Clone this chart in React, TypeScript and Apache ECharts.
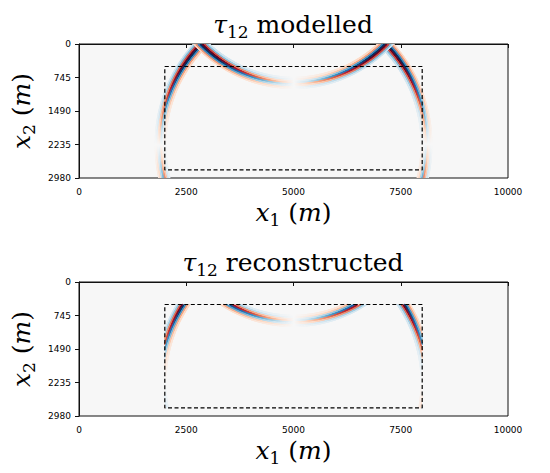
import React, { useEffect, useRef } from "react";
import * as echarts from "echarts";

// ---- data ----
const xTicksInterval = 2500;
const xMax = 10000;
const yTicksInterval = 745;
const yMax = 2980;
const sourceX = 5000;
// wavefronts: direct wave (centre at source depth) and free-surface reflection (image source)
const waveCentreDepths = [2235, -2235];
const waveRadius = 3100;
// wavelet bands across each front (radius offset in m, signed amplitude)
const bandOffsets = [122, 87, 52, 17, -17, -52, -87, -122];
const bandAmplitudes = [-0.2, -0.4, 0.6, 0.95, -0.95, -0.6, 0.4, 0.2];
// dashed box (reconstruction area)
const boxX = [2000, 8000];
const boxY = [500, 2800];
const panelTitles = ["modelled", "reconstructed"];

const rdbu = [
  "#053061", "#2166ac", "#4393c3", "#92c5de", "#d1e5f0", "#f7f7f7",
  "#fddbc7", "#f4a582", "#d6604d", "#b2182b", "#67001f",
];
const hex = (h: string) => [
  parseInt(h.slice(1, 3), 16),
  parseInt(h.slice(3, 5), 16),
  parseInt(h.slice(5, 7), 16),
];
const rdbuRgb = rdbu.map(hex);
function cmap(v: number) {
  const c = Math.max(-1, Math.min(1, v));
  const t = ((c + 1) / 2) * (rdbu.length - 1);
  const i = Math.min(rdbu.length - 2, Math.floor(t));
  const f = t - i;
  const a = rdbuRgb[i], b = rdbuRgb[i + 1];
  const m = (k: number) => Math.round(a[k] + (b[k] - a[k]) * f);
  return `rgb(${m(0)},${m(1)},${m(2)})`;
}

const GAIN = 1.12;

function makeRender(clip: number[]) {
  return (params: any, api: any) => {
    const wi = api.value(0);
    const bi = api.value(1);
    const cy = waveCentreDepths[wi];
    const r = waveRadius + bandOffsets[bi];
    const amp = bandAmplitudes[bi];
    const children: any[] = [];
    const N = 1440;
    let px = 0, py = 0, pin = false;
    for (let k = 0; k <= N; k++) {
      const a = (k / N) * 2 * Math.PI;
      const x = sourceX + r * Math.cos(a);
      const y = cy + r * Math.sin(a);
      const inside = x >= clip[0] && x <= clip[1] && y >= clip[2] && y <= clip[3];
      if (k > 0 && inside && pin) {
        const mx = (x + px) / 2 - sourceX;
        const my = (y + py) / 2 - cy;
        const s = (2 * mx * my) / (r * r);
        const v = GAIN * amp * s;
        const p1 = api.coord([px, py]);
        const p2 = api.coord([x, y]);
        children.push({
          type: "line",
          shape: { x1: p1[0], y1: p1[1], x2: p2[0], y2: p2[1] },
          style: { stroke: cmap(v), lineWidth: 1.5, lineCap: "round" },
          silent: true,
        });
      }
      px = x; py = y; pin = inside;
    }
    return { type: "group", children };
  };
}

const fam = "DejaVu Serif";
const tok = (size: number, italic: boolean, lh: number, extra: any = {}) => ({
  fontFamily: fam,
  fontStyle: italic ? "italic" : "normal",
  fontWeight: "normal",
  fontSize: size,
  lineHeight: lh,
  color: "#000",
  ...extra,
});
const textStyle = {
  fontFamily: fam,
  fontSize: 25,
  fontWeight: "normal",
  color: "#000",
  rich: {
    it: tok(25, true, 31),
    rm: tok(25, false, 31),
    sub: tok(17, false, 17, { verticalAlign: "bottom" }),
  },
};

export default function App() {
  const ref = useRef<HTMLDivElement>(null);
  useEffect(() => {
    document.body.style.margin = "0";
    if (!ref.current) return;
    const chart = echarts.init(ref.current, undefined, { renderer: "svg" });
    const gridTops = [44, 282];
    const grids = gridTops.map((top) => ({
      left: 79,
      top,
      width: 429,
      height: 134,
      show: true,
      backgroundColor: "#f7f7f7",
      borderColor: "#111",
      borderWidth: 1,
    }));
    const label = {
      fontFamily: "DejaVu Sans",
      fontSize: 9,
      color: "#000",
      formatter: (v: number) => String(v),
    };
    const xAxes = gridTops.map((_, i) => ({
      gridIndex: i,
      type: "value",
      min: 0,
      max: xMax,
      interval: xTicksInterval,
      name: "{it|x}{sub|1}{rm| (}{it|m}{rm|)}",
      nameLocation: "middle",
      nameGap: 19,
      nameTextStyle: textStyle,
      axisLine: { show: true, lineStyle: { color: "#111", width: 1 } },
      axisTick: { show: true, length: 4, lineStyle: { color: "#111" } },
      axisLabel: { ...label, margin: 9 },
      splitLine: { show: false },
    }));
    const yAxes = gridTops.map((_, i) => ({
      gridIndex: i,
      type: "value",
      inverse: true,
      min: 0,
      max: yMax,
      interval: yTicksInterval,
      name: "{it|x}{sub|2}{rm| (}{it|m}{rm|)}",
      nameLocation: "middle",
      nameRotate: 90,
      nameGap: 35,
      nameTextStyle: textStyle,
      axisLine: { show: true, lineStyle: { color: "#111", width: 1 } },
      axisTick: { show: true, length: 4, lineStyle: { color: "#111" } },
      axisLabel: { ...label, margin: 8 },
      splitLine: { show: false },
    }));
    const titles = gridTops.map((top, i) => ({
      text: `{it|τ}{sub|12}{rm| ${panelTitles[i]}}`,
      left: 293,
      top: top - 35,
      textAlign: "center",
      padding: 0,
      textStyle,
    }));
    const bandData: number[][] = [];
    waveCentreDepths.forEach((_, wi) =>
      bandOffsets.forEach((_, bi) => bandData.push([wi, bi]))
    );
    const clips = [
      [0, xMax, 0, yMax],
      [boxX[0], boxX[1], boxY[0], boxY[1]],
    ];
    const boxData = [
      [boxX[0], boxY[0]],
      [boxX[1], boxY[0]],
      [boxX[1], boxY[1]],
      [boxX[0], boxY[1]],
      [boxX[0], boxY[0]],
    ];
    const series: any[] = [];
    gridTops.forEach((_, i) => {
      series.push({
        type: "custom",
        xAxisIndex: i,
        yAxisIndex: i,
        coordinateSystem: "cartesian2d",
        clip: true,
        silent: true,
        data: bandData,
        renderItem: makeRender(clips[i]),
        z: 2,
      });
      series.push({
        type: "line",
        xAxisIndex: i,
        yAxisIndex: i,
        data: boxData,
        symbol: "none",
        silent: true,
        lineStyle: { color: "#000", width: 1.2, type: [4, 2.5] },
        z: 5,
      });
    });
    chart.setOption({
      animation: false,
      backgroundColor: "#fff",
      title: titles,
      grid: grids,
      xAxis: xAxes,
      yAxis: yAxes,
      series,
    });
    return () => chart.dispose();
  }, []);
  return <div ref={ref} style={{ width: 550, height: 473 }} />;
}
